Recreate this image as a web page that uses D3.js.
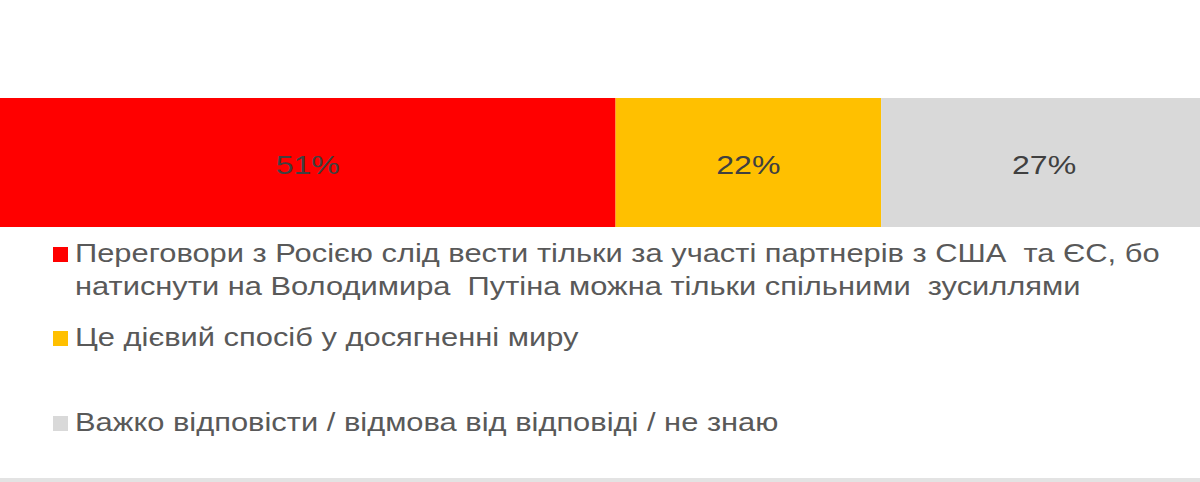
<!DOCTYPE html>
<html>
<head>
<meta charset="utf-8">
<script src="https://cdn.jsdelivr.net/npm/d3@7"></script>
<style>
  html, body { margin: 0; padding: 0; background: #fff; }
  svg { display: block; font-family: "Liberation Sans", Arial, sans-serif; }
</style>
</head>
<body>
<svg id="chart" width="1200" height="482"></svg>
<script>
// Data: share of answers, in percent.
const categories = ["partners", "effective", "dontknow"];
const values = [51, 22, 27];
const colors = ["#ff0000", "#ffc000", "#d9d9d9"];
const legendLines = [
  ["Переговори з Росією слід вести тільки за участі партнерів з США  та ЄС, бо",
   "натиснути на Володимира  Путіна можна тільки спільними  зусиллями"],
  ["Це дієвий спосіб у досягненні миру"],
  ["Важко відповісти / відмова від відповіді / не знаю"]
];

// The original picture is stretched sideways, so text gets the same stretch.
const stretch = 1.235;

const svg = d3.select("#chart");

// x scale, the bar runs a touch past the right edge like the original.
const xs = d3.scaleLinear().domain([0, 100]).range([0, 1207]);

// Stack the single bar.
let acc = 0;
const segs = values.map((v, i) => {
  const s = {key: categories[i], v: v, x0: acc, x1: acc + v, color: colors[i]};
  acc += v;
  return s;
});

const barTop = 98, barH = 129;

const g = svg.append("g").attr("class", "bar");
g.selectAll("rect")
  .data(segs)
  .enter()
  .append("rect")
    .attr("x", d => xs(d.x0))
    .attr("y", barTop)
    .attr("width", d => xs(d.x1) - xs(d.x0))
    .attr("height", barH)
    .attr("fill", d => d.color);

// Percent labels, centred on each segment.
g.selectAll("text")
  .data(segs)
  .enter()
  .append("text")
    .attr("transform", d => {
      let cx = xs((d.x0 + d.x1) / 2);
      return `translate(${cx},${barTop + barH / 2 + 11}) scale(${stretch},1)`;
    })
    .attr("text-anchor", "middle")
    .attr("font-size", 26)
    .attr("fill", "#404040")
    .text(d => d.v + "%");

// Legend.
const legendY = [262, 346, 431];
const lg = svg.append("g").attr("class", "legend");
legendLines.forEach((lines, i) => {
  lg.append("rect")
    .attr("x", 53)
    .attr("y", legendY[i] - 15)
    .attr("width", 15)
    .attr("height", 15)
    .attr("fill", colors[i]);
  lines.forEach((t, j) => {
    lg.append("text")
      .attr("transform", `translate(75,${legendY[i] + j * 33}) scale(${stretch},1)`)
      .attr("font-size", 25)
      .attr("fill", "#595959")
      .style("white-space", "pre")
      .text(t);
  });
});

// Thin grey strip at the bottom.
svg.append("rect")
  .attr("x", 0).attr("y", 478)
  .attr("width", 1200).attr("height", 4)
  .attr("fill", "#e3e3e3");
</script>
</body>
</html>
